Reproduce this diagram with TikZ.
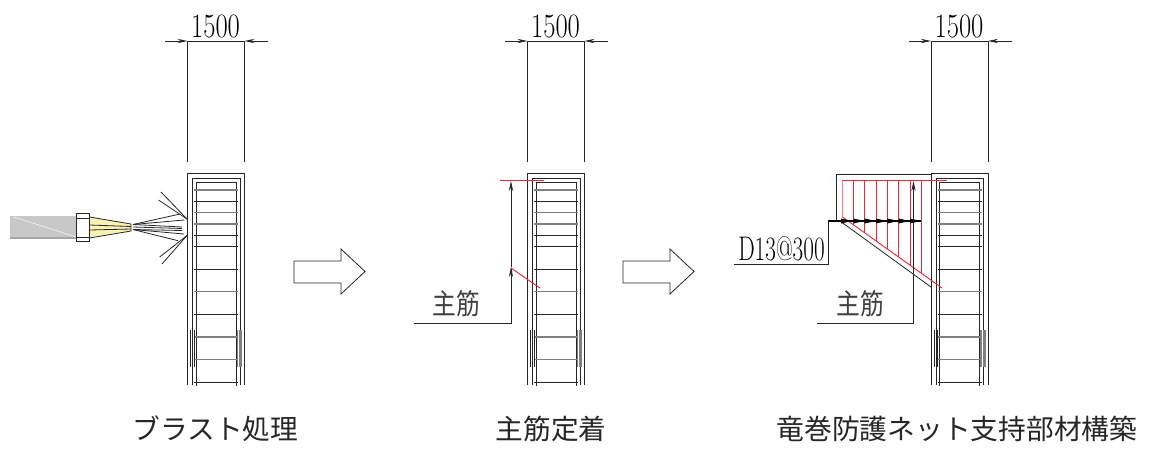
\documentclass[tikz,border=0pt]{standalone}
\usepackage{fontspec}
\usetikzlibrary{arrows.meta}
\newfontfamily\jpfont{Noto Sans CJK JP}
\definecolor{nozzleyellow}{RGB}{248,242,180}
\definecolor{nozzlegray}{RGB}{200,200,200}
\definecolor{rebarred}{RGB}{240,40,60}

\begin{document}
\begin{tikzpicture}[x=0.75pt,y=-0.75pt,>={Stealth[length=7.5pt,width=3.2pt]}]
 \tikzstyle{wire} = [line width=0.6pt,black!85]
 \tikzstyle{rung} = [line width=0.65pt,black!85]
 \tikzstyle{palerung} = [line width=1pt,black!50]
 \tikzstyle{redbar} = [line width=0.7pt,rebarred]
 \tikzstyle{caption} = [font=\jpfont\fontsize{20.8}{22}\selectfont,black!85]
 \tikzstyle{mainbar} = [font=\jpfont\fontsize{17.8}{19}\selectfont,black!75]
 \tikzstyle{cadtext} = [font=\fontsize{25.6}{27}\selectfont,inner sep=0pt]
 \newcommand{\rebarcol}[1]{%
  \begin{scope}[shift={(#1,0)}]
   % Dimension
   \draw[wire] (187.5,41) -- (187.5,162);
   \draw[wire] (244.5,41) -- (244.5,162);
   \draw[wire,->] (165,41) -- (187.5,41);
   \draw[wire,->] (268,41) -- (244.5,41);
   \draw[wire] (187.5,41) -- (244.5,41);
   \node[cadtext] (dim#1) at (215.5,26) {\scalebox{.78}[1]{1500}};
   % Cage
   \draw[wire,line width=0.75pt] (187.5,385) -- (187.5,173.5) -- (244.5,173.5) -- (244.5,385);
   \draw[wire] (192.5,385) -- (192.5,178.5) -- (240,178.5) -- (240,385);
   \draw[wire] (196,386) -- (196,182) -- (236,182) -- (236,386);
   % Rungs
   \foreach \ry in {201,235,246.5,269,314,382}
    \draw[rung] (194,\ry) -- (238,\ry);
   \foreach \ry in {190,212.5,224,291.7,337,359.5}
    \draw[palerung] (194,\ry) -- (238,\ry);
   % Laps
   \foreach \lx in {190.5,194}
    \draw[wire] (\lx,330) -- (\lx,367);
   \foreach \lx in {237.5,240,241.5}
    \draw[palerung] (\lx,330) -- (\lx,367);
  \end{scope}}

% Three columns
 \useasboundingbox (0,0) rectangle (1157,451);
 \rebarcol{0}
 \rebarcol{340}
 \rebarcol{743.5}

% Nozzle
 \fill[nozzlegray] (10,216) rectangle (76,238);
 \draw[white,line width=0.3pt] (14,217) -- (76,237);
 \draw[line width=1pt,black!35] (10,238) -- (76,238);
 \draw[wire,fill=nozzleyellow] (89.5,217) -- (131,224) -- (131,231) -- (89.5,238) -- cycle;
 \draw[wire] (89.5,225) -- (131,226.5);
 \draw[wire] (89.5,230) -- (131,229);
 \draw[wire,fill=white] (76.5,213) rectangle (89.5,241.5);
 \draw[wire] (76.5,218) -- (89.5,218);
 \draw[wire] (76.5,237) -- (89.5,237);

% Spray
 \foreach \ex/\ey in {180/214,184/220,182/227}
  \draw[wire] (133,224.5) -- (\ex,\ey);
 \foreach \ex/\ey in {182/230.5,184/234,178/240.7}
  \draw[wire] (133,229.5) -- (\ex,\ey);
 \draw[wire] (133,227) -- (182,228.5);
 \draw[wire] (161,192) -- (187,219);
 \draw[wire] (158.5,200) -- (187,219);
 \draw[wire] (159.7,257) -- (187,235.5);
 \draw[wire] (162,264) -- (187,235.5);

% Block arrows
 \foreach \ax in {294,623}
  \draw[wire,shift={(\ax,0)}] (0,261) -- (47,261) -- (47,249) -- (71,271.5) -- (47,294) -- (47,283) -- (0,283) -- cycle;

% Anchored bar
 \draw[wire,line width=0.75pt] (414,323.5) -- (511,323.5) -- (511,268);
 \draw[wire,line width=0.75pt,->] (511,323.5) -- (511,267);
 \draw[wire,->] (511,267) -- (511,181);
 \draw[redbar] (500,180.5) -- (544,180.5);
 \draw[redbar] (511,268) -- (540,288);
 \node[mainbar] (barleft) at (456.5,304) {\scalebox{1}[1.2]{主筋}};

% Net support
 \draw[wire,line width=0.75pt] (836.5,221) -- (836.5,174) -- (931,174);
 \draw[wire] (840,221) -- (931,287);
 \draw[redbar] (842,180.5) -- (947,180.5);
 \draw[rebarred!60,line width=1pt] (842.5,180.5) -- (842.5,217);
 \draw[redbar] (842.5,217) -- (942,288);
 \foreach \vx in {853.3,864.7,876,887.3,898.7,910,921.3} {
  \pgfmathsetmacro{\vy}{217+(\vx-842.5)*0.7136}
  \draw[redbar] (\vx,180.5) -- (\vx,\vy);
 }
 \draw[wire,line width=1.2pt,black] (828,221) -- (921,221);
 \foreach \tx in {841,853.3,864.7,876,887.3,898.7,910}
  \fill[black] (\tx+11,221) -- (\tx,218.5) -- (\tx,223.5) -- cycle;
 \draw[wire,line width=0.75pt] (828,221) -- (828,264.7) -- (733.5,264.7);
 \node[cadtext] (barsize) at (781.5,248.5) {\scalebox{.68}[1]{D13@300}};
 \draw[wire,line width=0.75pt] (817,323.5) -- (913.5,323.5);
 \draw[wire,->] (913.5,323.5) -- (913.5,181);
 \node[mainbar] (barright) at (860.5,304) {\scalebox{1}[1.2]{主筋}};

% Captions
 \node[caption] (blast) at (215.5,429) {ブラスト処理};
 \node[caption] (anchor) at (551,429) {主筋定着};
 \node[caption] (support) at (957,429) {竜巻防護ネット支持部材構築};
\end{tikzpicture}
\end{document}
